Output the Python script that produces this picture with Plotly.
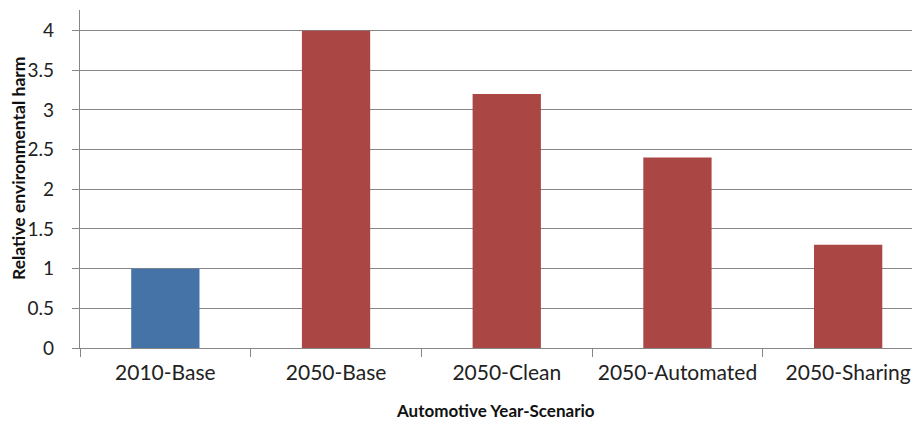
import plotly.graph_objects as go

categories = ["2010-Base", "2050-Base", "2050-Clean", "2050-Automated", "2050-Sharing"]
harm_values = [1.0, 4.0, 3.2, 2.4, 1.3]
bar_colors = ["#4572A7", "#AA4643", "#AA4643", "#AA4643", "#AA4643"]
y_tick_values = [0, 0.5, 1, 1.5, 2, 2.5, 3, 3.5, 4]
y_tick_labels = ["0", "0.5", "1", "1.5", "2", "2.5", "3", "3.5", "4"]

W, H = 912, 423
ML, MR, MT, MB = 80, 0, 10, 75
cat_px = 170.7
x_right = -0.5 + (W - ML - MR) / cat_px

fig = go.Figure()
fig.add_trace(go.Bar(
    x=categories, y=harm_values,
    marker=dict(color=bar_colors, line=dict(width=0)),
    width=0.4, showlegend=False, hoverinfo="x+y",
))

grid = "#868686"
fig.update_layout(
    width=W, height=H,
    margin=dict(l=ML, r=MR, t=MT, b=MB, autoexpand=False),
    paper_bgcolor="white", plot_bgcolor="white",
    font=dict(family="Lato, 'Open Sans', sans-serif", color="#222222"),
    xaxis=dict(
        type="category", range=[-0.5, x_right],
        showline=True, linecolor=grid, linewidth=1.3,
        ticks="outside", tickson="boundaries", ticklen=8, tickcolor=grid, tickwidth=1.2,
        tickfont=dict(size=21, color="#222222"), ticklabelstandoff=6,
        tickangle=0, automargin=False,
        showgrid=False, zeroline=False,
    ),
    yaxis=dict(
        range=[0, 4.26],
        tickvals=y_tick_values, ticktext=y_tick_labels,
        showline=True, linecolor=grid, linewidth=1.3,
        ticks="outside", ticklen=7, tickcolor=grid, tickwidth=1.2,
        tickfont=dict(size=19, color="#222222"), ticklabelstandoff=14,
        automargin=False,
        showgrid=True, gridcolor=grid, gridwidth=1.3, zeroline=False,
    ),
    annotations=[
        dict(text="<b>Relative environmental harm</b>", textangle=-90,
             xref="paper", yref="paper",
             x=(19 - ML) / (W - ML - MR), y=(H - MB - 168) / (H - MT - MB),
             showarrow=False, font=dict(size=17.5, color="#111111"),
             xanchor="center", yanchor="middle"),
        dict(text="<b>Automotive Year-Scenario</b>",
             xref="paper", yref="paper",
             x=(495 - ML) / (W - ML - MR), y=-(410 - (H - MB)) / (H - MT - MB),
             showarrow=False, font=dict(size=17, color="#111111"),
             xanchor="center", yanchor="middle"),
    ],
)

fig.write_html("out.html", config={"displayModeBar": False},
               post_script="document.body.style.margin='0px';")
